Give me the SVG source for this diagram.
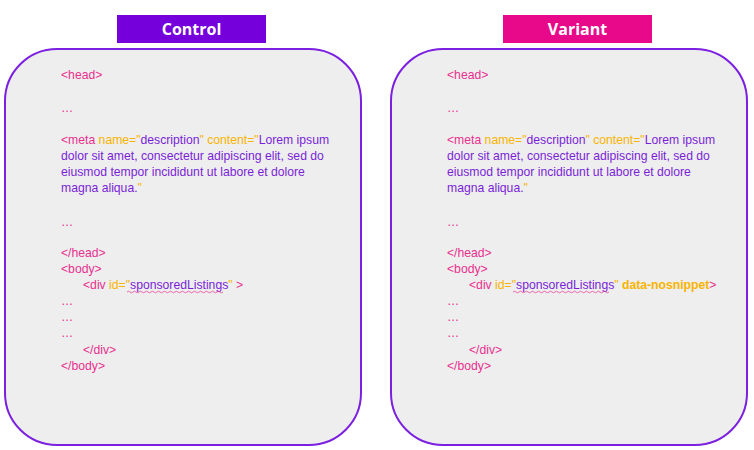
<svg xmlns="http://www.w3.org/2000/svg" width="754" height="450" viewBox="0 0 754 450">
<style>
.box{fill:#eeeeee;stroke:#7b1fe0;stroke-width:2}
.code{font-family:"Liberation Sans",Arial,sans-serif;font-size:12.2px}
.p{fill:#e8308f}.o{fill:#f9b400}.v{fill:#7a1fd8}
.b{font-weight:bold}
.title{font-family:"Open Sans","Noto Sans",sans-serif;font-size:16px;font-weight:bold;fill:#fff;text-anchor:middle}
.sq{fill:none;stroke:#e8308f;stroke-width:0.7}
</style>
<g id="control-title"><rect x="117" y="15" width="149" height="28" fill="#7600dc"/><text class="title" x="191.5" y="35">Control</text></g>
<g id="variant-title"><rect x="503" y="15" width="149" height="28" fill="#e8098a"/><text class="title" x="577.5" y="35">Variant</text></g>
<g id="control">
<rect class="box" x="5" y="49" width="356" height="396" rx="52"/>
<g class="code">
<text class="p" x="61" y="79">&lt;head&gt;</text>
<text class="p" x="61" y="112">…</text>
<text x="61" y="144"><tspan class="p">&lt;meta </tspan><tspan class="o">name="</tspan><tspan class="v">description</tspan><tspan class="o">" content="</tspan><tspan class="v">Lorem ipsum</tspan></text>
<text class="v" x="61" y="160">dolor sit amet, consectetur adipiscing elit, sed do</text>
<text class="v" x="61" y="176">eiusmod tempor incididunt ut labore et dolore</text>
<text x="61" y="192"><tspan class="v">magna aliqua.</tspan><tspan class="o">"</tspan></text>
<text class="p" x="61" y="226">…</text>
<text class="p" x="61" y="257">&lt;/head&gt;</text>
<text class="p" x="61" y="273">&lt;body&gt;</text>
<text x="83" y="289"><tspan class="p">&lt;div </tspan><tspan class="o">id="</tspan><tspan class="v">sponsoredListings</tspan><tspan class="o">" </tspan><tspan class="p">&gt;</tspan></text>
<text class="p" x="61" y="305">…</text>
<text class="p" x="61" y="321">…</text>
<text class="p" x="61" y="337">…</text>
<text class="p" x="83" y="354">&lt;/div&gt;</text>
<text class="p" x="61" y="370">&lt;/body&gt;</text>
</g>
<path class="sq" d="M127 292 q1.5 -1.5 3 0 t3 0 t3 0 t3 0 t3 0 t3 0 t3 0 t3 0 t3 0 t3 0 t3 0 t3 0 t3 0 t3 0 t3 0 t3 0 t3 0 t3 0 t3 0 t3 0 t3 0 t3 0 t3 0 t3 0 t3 0 t3 0 t3 0 t3 0 t3 0 t3 0 t3 0 t3 0"/>
</g>
<g id="variant">
<rect class="box" x="391" y="49" width="356" height="396" rx="52"/>
<g class="code">
<text class="p" x="447" y="79">&lt;head&gt;</text>
<text class="p" x="447" y="112">…</text>
<text x="447" y="144"><tspan class="p">&lt;meta </tspan><tspan class="o">name="</tspan><tspan class="v">description</tspan><tspan class="o">" content="</tspan><tspan class="v">Lorem ipsum</tspan></text>
<text class="v" x="447" y="160">dolor sit amet, consectetur adipiscing elit, sed do</text>
<text class="v" x="447" y="176">eiusmod tempor incididunt ut labore et dolore</text>
<text x="447" y="192"><tspan class="v">magna aliqua.</tspan><tspan class="o">"</tspan></text>
<text class="p" x="447" y="226">…</text>
<text class="p" x="447" y="257">&lt;/head&gt;</text>
<text class="p" x="447" y="273">&lt;body&gt;</text>
<text x="469" y="289"><tspan class="p">&lt;div </tspan><tspan class="o">id="</tspan><tspan class="v">sponsoredListings</tspan><tspan class="o">" </tspan><tspan class="o b">data-nosnippet</tspan><tspan class="p">&gt;</tspan></text>
<text class="p" x="447" y="305">…</text>
<text class="p" x="447" y="321">…</text>
<text class="p" x="447" y="337">…</text>
<text class="p" x="469" y="354">&lt;/div&gt;</text>
<text class="p" x="447" y="370">&lt;/body&gt;</text>
</g>
<path class="sq" d="M513 292 q1.5 -1.5 3 0 t3 0 t3 0 t3 0 t3 0 t3 0 t3 0 t3 0 t3 0 t3 0 t3 0 t3 0 t3 0 t3 0 t3 0 t3 0 t3 0 t3 0 t3 0 t3 0 t3 0 t3 0 t3 0 t3 0 t3 0 t3 0 t3 0 t3 0 t3 0 t3 0 t3 0 t3 0"/>
</g>
</svg>
